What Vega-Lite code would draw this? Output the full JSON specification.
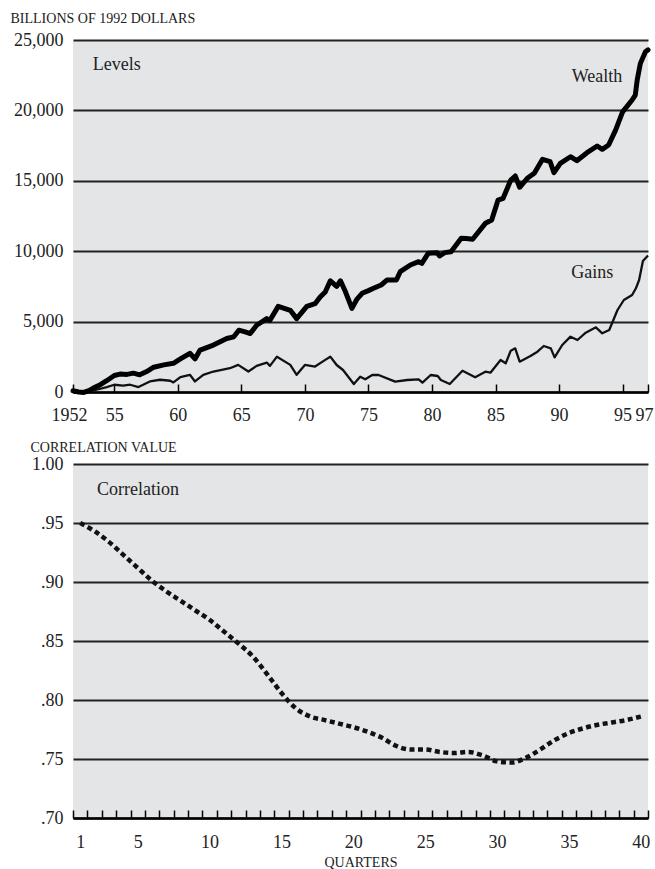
{
  "$schema": "https://vega.github.io/schema/vega-lite/v6.json",
  "padding": {"left": 10, "top": 11, "right": 5, "bottom": 2},
  "bounds": "flush",
  "spacing": 72,
  "config": {
    "font": "Liberation Serif",
    "view": {"fill": "#e4e5e7", "stroke": null},
    "axis": {
      "labelFont": "Liberation Serif",
      "labelFontSize": 18,
      "labelColor": "#222222",
      "titleFont": "Liberation Serif",
      "titleFontWeight": "normal",
      "titleColor": "#222222",
      "titleFontSize": 14
    }
  },
  "datasets": {
    "wealth": [
      {"year": 1951.75, "value": 90}, {"year": 1952.2, "value": 0}, {"year": 1952.6, "value": -30},
      {"year": 1953.0, "value": 100}, {"year": 1953.35, "value": 280}, {"year": 1953.9, "value": 520},
      {"year": 1954.4, "value": 800}, {"year": 1955.0, "value": 1170}, {"year": 1955.45, "value": 1270},
      {"year": 1956.0, "value": 1250}, {"year": 1956.5, "value": 1340}, {"year": 1957.0, "value": 1220},
      {"year": 1957.55, "value": 1455}, {"year": 1958.1, "value": 1760}, {"year": 1958.9, "value": 1925},
      {"year": 1959.65, "value": 2040}, {"year": 1960.2, "value": 2350}, {"year": 1960.95, "value": 2750},
      {"year": 1961.35, "value": 2350}, {"year": 1961.75, "value": 2980}, {"year": 1962.8, "value": 3330},
      {"year": 1963.85, "value": 3800}, {"year": 1964.4, "value": 3920}, {"year": 1964.8, "value": 4390},
      {"year": 1965.3, "value": 4270}, {"year": 1965.7, "value": 4150}, {"year": 1966.2, "value": 4740},
      {"year": 1967.0, "value": 5210}, {"year": 1967.25, "value": 5090}, {"year": 1967.9, "value": 6080},
      {"year": 1968.85, "value": 5800}, {"year": 1969.35, "value": 5210}, {"year": 1970.15, "value": 6080},
      {"year": 1970.8, "value": 6270}, {"year": 1971.2, "value": 6740}, {"year": 1971.6, "value": 7100},
      {"year": 1972.0, "value": 7900}, {"year": 1972.5, "value": 7500}, {"year": 1972.8, "value": 7900},
      {"year": 1973.2, "value": 7100}, {"year": 1973.7, "value": 5940}, {"year": 1974.1, "value": 6600},
      {"year": 1974.5, "value": 7010}, {"year": 1975.0, "value": 7200}, {"year": 1975.4, "value": 7365},
      {"year": 1976.0, "value": 7600}, {"year": 1976.45, "value": 7950}, {"year": 1977.2, "value": 7950},
      {"year": 1977.5, "value": 8545}, {"year": 1978.3, "value": 9020}, {"year": 1978.95, "value": 9256},
      {"year": 1979.2, "value": 9137}, {"year": 1979.7, "value": 9847}, {"year": 1980.4, "value": 9895},
      {"year": 1980.6, "value": 9660}, {"year": 1981.0, "value": 9900}, {"year": 1981.5, "value": 9966},
      {"year": 1982.3, "value": 10917}, {"year": 1982.7, "value": 10900}, {"year": 1983.2, "value": 10845},
      {"year": 1984.2, "value": 11980}, {"year": 1984.7, "value": 12215}, {"year": 1985.2, "value": 13635},
      {"year": 1985.6, "value": 13755}, {"year": 1986.2, "value": 15055}, {"year": 1986.55, "value": 15340},
      {"year": 1986.9, "value": 14540}, {"year": 1987.5, "value": 15175}, {"year": 1988.05, "value": 15530},
      {"year": 1988.7, "value": 16525}, {"year": 1989.3, "value": 16356}, {"year": 1989.6, "value": 15575},
      {"year": 1990.1, "value": 16240}, {"year": 1990.9, "value": 16710}, {"year": 1991.4, "value": 16427},
      {"year": 1992.2, "value": 16995}, {"year": 1993.0, "value": 17470}, {"year": 1993.4, "value": 17237},
      {"year": 1993.9, "value": 17540}, {"year": 1994.45, "value": 18600}, {"year": 1995.0, "value": 19900},
      {"year": 1995.75, "value": 20740}, {"year": 1996.0, "value": 21090}, {"year": 1996.15, "value": 22160},
      {"year": 1996.4, "value": 23340}, {"year": 1996.8, "value": 24170}, {"year": 1997.0, "value": 24300}
    ],
    "gains": [
      {"year": 1951.75, "value": 90}, {"year": 1952.6, "value": -70}, {"year": 1953.6, "value": 160},
      {"year": 1954.4, "value": 350}, {"year": 1955.0, "value": 516}, {"year": 1955.7, "value": 446},
      {"year": 1956.25, "value": 516}, {"year": 1956.9, "value": 352}, {"year": 1957.8, "value": 750},
      {"year": 1958.6, "value": 870}, {"year": 1959.4, "value": 800}, {"year": 1959.65, "value": 680},
      {"year": 1960.2, "value": 1056}, {"year": 1960.95, "value": 1220}, {"year": 1961.35, "value": 750},
      {"year": 1962.0, "value": 1220}, {"year": 1962.8, "value": 1455}, {"year": 1964.1, "value": 1690},
      {"year": 1964.75, "value": 1925}, {"year": 1965.55, "value": 1455}, {"year": 1966.2, "value": 1855},
      {"year": 1967.0, "value": 2090}, {"year": 1967.25, "value": 1855}, {"year": 1967.8, "value": 2510},
      {"year": 1968.85, "value": 1925}, {"year": 1969.35, "value": 1220}, {"year": 1970.0, "value": 1925},
      {"year": 1970.8, "value": 1810}, {"year": 1971.6, "value": 2280}, {"year": 1972.0, "value": 2510},
      {"year": 1972.5, "value": 1917}, {"year": 1973.0, "value": 1562}, {"year": 1973.85, "value": 568},
      {"year": 1974.35, "value": 1089}, {"year": 1974.75, "value": 900}, {"year": 1975.3, "value": 1207},
      {"year": 1975.8, "value": 1207}, {"year": 1977.1, "value": 734}, {"year": 1978.05, "value": 852},
      {"year": 1978.95, "value": 900}, {"year": 1979.25, "value": 663}, {"year": 1979.9, "value": 1207},
      {"year": 1980.45, "value": 1136}, {"year": 1980.7, "value": 852}, {"year": 1981.4, "value": 568},
      {"year": 1982.4, "value": 1515}, {"year": 1983.4, "value": 1042}, {"year": 1984.2, "value": 1444},
      {"year": 1984.6, "value": 1373}, {"year": 1985.4, "value": 2273}, {"year": 1985.8, "value": 2036},
      {"year": 1986.2, "value": 2935}, {"year": 1986.55, "value": 3100}, {"year": 1986.9, "value": 2154},
      {"year": 1987.75, "value": 2557}, {"year": 1988.3, "value": 2864}, {"year": 1988.8, "value": 3267},
      {"year": 1989.35, "value": 3100}, {"year": 1989.65, "value": 2461}, {"year": 1990.25, "value": 3338},
      {"year": 1990.9, "value": 3930}, {"year": 1991.45, "value": 3693}, {"year": 1992.1, "value": 4214},
      {"year": 1992.9, "value": 4593}, {"year": 1993.4, "value": 4167}, {"year": 1993.95, "value": 4403},
      {"year": 1994.6, "value": 5824}, {"year": 1995.1, "value": 6534}, {"year": 1995.75, "value": 6890},
      {"year": 1996.05, "value": 7365}, {"year": 1996.3, "value": 7954}, {"year": 1996.6, "value": 9300},
      {"year": 1997.0, "value": 9700}
    ],
    "correlation": [
      {"quarter": 1, "value": 0.950}, {"quarter": 2, "value": 0.943}, {"quarter": 3, "value": 0.934},
      {"quarter": 4, "value": 0.923}, {"quarter": 5, "value": 0.912}, {"quarter": 6, "value": 0.901},
      {"quarter": 7, "value": 0.892}, {"quarter": 8, "value": 0.884}, {"quarter": 9, "value": 0.876},
      {"quarter": 10, "value": 0.868}, {"quarter": 11, "value": 0.858}, {"quarter": 12, "value": 0.848},
      {"quarter": 13, "value": 0.837}, {"quarter": 14, "value": 0.822}, {"quarter": 15, "value": 0.806},
      {"quarter": 16, "value": 0.793}, {"quarter": 17, "value": 0.786}, {"quarter": 18, "value": 0.783},
      {"quarter": 19, "value": 0.780}, {"quarter": 20, "value": 0.777}, {"quarter": 21, "value": 0.773},
      {"quarter": 22, "value": 0.768}, {"quarter": 23, "value": 0.761}, {"quarter": 24, "value": 0.758},
      {"quarter": 25, "value": 0.758}, {"quarter": 26, "value": 0.756}, {"quarter": 27, "value": 0.755},
      {"quarter": 28, "value": 0.756}, {"quarter": 29, "value": 0.753}, {"quarter": 30, "value": 0.748},
      {"quarter": 31, "value": 0.747}, {"quarter": 32, "value": 0.751}, {"quarter": 33, "value": 0.758},
      {"quarter": 34, "value": 0.766}, {"quarter": 35, "value": 0.772}, {"quarter": 36, "value": 0.776},
      {"quarter": 37, "value": 0.779}, {"quarter": 38, "value": 0.781}, {"quarter": 39, "value": 0.783},
      {"quarter": 40, "value": 0.786}
    ],
    "levelLabels": [
      {"label": "Levels", "year": 1953.3, "value": 23224, "side": "left"},
      {"label": "Wealth", "year": 1994.98, "value": 22394, "side": "right"},
      {"label": "Gains", "year": 1994.27, "value": 8452, "side": "right"}
    ],
    "corrLabels": [
      {"label": "Correlation", "quarter": 2.17, "value": 0.9777}
    ]
  },
  "vconcat": [
    {
      "width": 575,
      "height": 352,
      "encoding": {
        "x": {
          "field": "year", "type": "quantitative",
          "scale": {"domain": [1951.75, 1997.0], "nice": false, "zero": false},
          "axis": {
            "title": null,
            "values": [1951.75, 1955, 1960, 1965, 1970, 1975, 1980, 1985, 1990, 1995, 1997],
            "labelExpr": "datum.value < 1952 ? '1952' : substring(toString(datum.value), 2)",
            "labelOffset": {"condition": {"test": "datum.value < 1952 || datum.value > 1996", "value": -4}, "value": 0},
            "labelFlush": false,
            "labelOverlap": false,
            "grid": false,
            "domainColor": "#000000",
            "domainWidth": 2.5,
            "tickColor": "#000000",
            "tickWidth": 1.5,
            "tickSize": -8,
            "labelPadding": 22
          }
        },
        "y": {
          "field": "value", "type": "quantitative",
          "scale": {"domain": [0, 25000], "nice": false},
          "axis": {
            "values": [0, 5000, 10000, 15000, 20000, 25000],
            "format": ",d",
            "grid": true,
            "gridColor": "#222222",
            "gridWidth": 1.8,
            "domain": false,
            "ticks": false,
            "labelPadding": 10,
            "title": "BILLIONS OF 1992 DOLLARS",
            "titleAngle": 0,
            "titleAlign": "left",
            "titleBaseline": "alphabetic",
            "titleX": -63,
            "titleY": -18
          }
        }
      },
      "layer": [
        {
          "data": {"name": "gains"},
          "mark": {"type": "line", "color": "#111111", "strokeWidth": 2.3, "strokeJoin": "round"}
        },
        {
          "data": {"name": "wealth"},
          "mark": {"type": "line", "color": "#000000", "strokeWidth": 5, "strokeJoin": "round", "strokeCap": "round"}
        },
        {
          "data": {"name": "levelLabels"},
          "transform": [{"filter": "datum.side == 'left'"}],
          "mark": {"type": "text", "align": "left", "baseline": "middle", "fontSize": 18, "color": "#222222", "font": "Liberation Serif"},
          "encoding": {"text": {"field": "label"}}
        },
        {
          "data": {"name": "levelLabels"},
          "transform": [{"filter": "datum.side == 'right'"}],
          "mark": {"type": "text", "align": "right", "baseline": "middle", "fontSize": 18, "color": "#222222", "font": "Liberation Serif"},
          "encoding": {"text": {"field": "label"}}
        }
      ]
    },
    {
      "width": 575,
      "height": 354,
      "encoding": {
        "x": {
          "field": "quarter", "type": "quantitative",
          "scale": {"domain": [0.5, 40.5], "nice": false, "zero": false},
          "axis": {
            "title": "QUARTERS",
            "titleBaseline": "alphabetic",
            "titleY": 48,
            "values": [0.5, 1.5, 2.5, 3.5, 4.5, 5.5, 6.5, 7.5, 8.5, 9.5, 10.5, 11.5, 12.5, 13.5, 14.5, 15.5, 16.5, 17.5, 18.5, 19.5, 20.5, 21.5, 22.5, 23.5, 24.5, 25.5, 26.5, 27.5, 28.5, 29.5, 30.5, 31.5, 32.5, 33.5, 34.5, 35.5, 36.5, 37.5, 38.5, 39.5, 40.5, 1, 5, 10, 15, 20, 25, 30, 35, 40],
            "labelExpr": "datum.value % 1 == 0 ? toString(datum.value) : ''",
            "tickOpacity": {"condition": {"test": "datum.value % 1 == 0", "value": 0}, "value": 1},
            "labelFlush": false,
            "labelOverlap": false,
            "grid": false,
            "domainColor": "#000000",
            "domainWidth": 2.5,
            "tickColor": "#000000",
            "tickWidth": 1.5,
            "tickSize": -8,
            "labelPadding": 23
          }
        },
        "y": {
          "field": "value", "type": "quantitative",
          "scale": {"domain": [0.7, 1.0], "nice": false, "zero": false},
          "axis": {
            "values": [0.7, 0.75, 0.8, 0.85, 0.9, 0.95, 1.0],
            "labelExpr": "datum.value >= 0.999 ? '1.00' : replace(format(datum.value, '.2f'), '0.', '.')",
            "grid": true,
            "gridColor": "#222222",
            "gridWidth": 1.8,
            "domain": false,
            "ticks": false,
            "labelPadding": 10,
            "title": "CORRELATION VALUE",
            "titleAngle": 0,
            "titleAlign": "left",
            "titleBaseline": "alphabetic",
            "titleX": -43,
            "titleY": -13
          }
        }
      },
      "layer": [
        {
          "data": {"name": "correlation"},
          "mark": {"type": "line", "color": "#111111", "strokeWidth": 4.5, "strokeDash": [5, 3.5], "interpolate": "monotone"}
        },
        {
          "data": {"name": "corrLabels"},
          "mark": {"type": "text", "align": "left", "baseline": "middle", "fontSize": 18, "color": "#222222", "font": "Liberation Serif"},
          "encoding": {"text": {"field": "label"}}
        }
      ]
    }
  ]
}
